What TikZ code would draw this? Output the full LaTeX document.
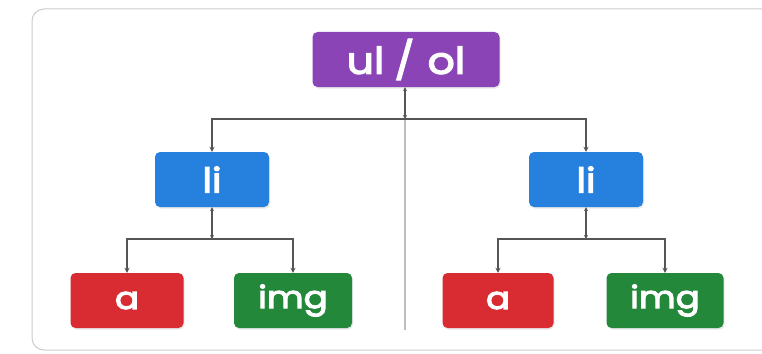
\documentclass[tikz,border=0pt]{standalone}
\usepackage{fontspec}
\setmainfont{Poppins}
\newfontfamily\boxfont[FakeBold=3.5,FakeStretch=1.15]{Poppins}
\usetikzlibrary{arrows.meta,shadows}
\definecolor{cpurple}{RGB}{138,68,182}
\definecolor{cblue}{RGB}{38,128,222}
\definecolor{cred}{RGB}{216,44,50}
\definecolor{cgreen}{RGB}{36,136,58}
\definecolor{cline}{RGB}{85,85,85}
\definecolor{cframe}{RGB}{205,205,205}
\begin{document}
\begin{tikzpicture}[x=1pt,y=-1pt,
  box/.style={rounded corners=5pt,draw=none,text=white,
    inner sep=0pt,drop shadow={opacity=0.18,shadow xshift=1pt,shadow yshift=-1.5pt}},
  big/.style={font=\boxfont\fontsize{37}{40}\selectfont},
  mid/.style={font=\boxfont\fontsize{34}{38}\selectfont},
  small/.style={font=\boxfont\fontsize{31}{34}\selectfont},
  conn/.style={draw=cline,line width=1.3pt,-{Stealth[length=5pt,width=5pt]}},
  stem/.style={draw=cline,line width=1.3pt,{Stealth[length=4pt,width=4pt]}-{Stealth[length=4pt,width=4pt]}}]
\useasboundingbox (0,0) rectangle (762,353);
\fill[white] (0,0) rectangle (762,353);
\begin{scope}
\clip (0,0) rectangle (762,353);
\draw[cframe,line width=1pt,rounded corners=12pt] (32,9) rectangle (790,350);
\end{scope}
\coordinate (vtop) at (405,119);
\coordinate (vbot) at (405,330);
\draw[cframe!80!gray,line width=1.2pt] (vtop) -- (vbot);
% nodes
\node[box,big,fill=cpurple,minimum width=187pt,minimum height=55pt] (ul) at (406,59.5) {ul\hspace{10pt}/\hspace{13pt}ol};
\node[box,mid,fill=cblue,minimum width=114pt,minimum height=55pt] (li1) at (212,179.5) {li};
\node[box,mid,fill=cblue,minimum width=114pt,minimum height=55pt] (li2) at (586,179.5) {li};
\node[box,small,fill=cred,minimum width=113pt,minimum height=55pt] (a1) at (127,300.5) {a};
\node[box,small,fill=cgreen,minimum width=118pt,minimum height=55pt] (img1) at (293,300.5) {img};
\node[box,small,fill=cred,minimum width=111pt,minimum height=55pt] (a2) at (498,300.5) {a};
\node[box,small,fill=cgreen,minimum width=117pt,minimum height=55pt] (img2) at (665,300.5) {img};
% junctions
\coordinate (j0) at (405,119);
\coordinate (j1) at (212,239);
\coordinate (j2) at (586,239);
\draw[stem] (ul.south -| j0) -- (j0);
\draw[conn] (j0) -| (li1.north);
\draw[conn] (j0) -| (li2.north);
\draw[stem] (li1.south) -- (j1);
\draw[conn] (j1) -| (a1.north);
\draw[conn] (j1) -| (img1.north);
\draw[stem] (li2.south) -- (j2);
\draw[conn] (j2) -| (a2.north);
\draw[conn] (j2) -| (img2.north);
\end{tikzpicture}
\end{document}
